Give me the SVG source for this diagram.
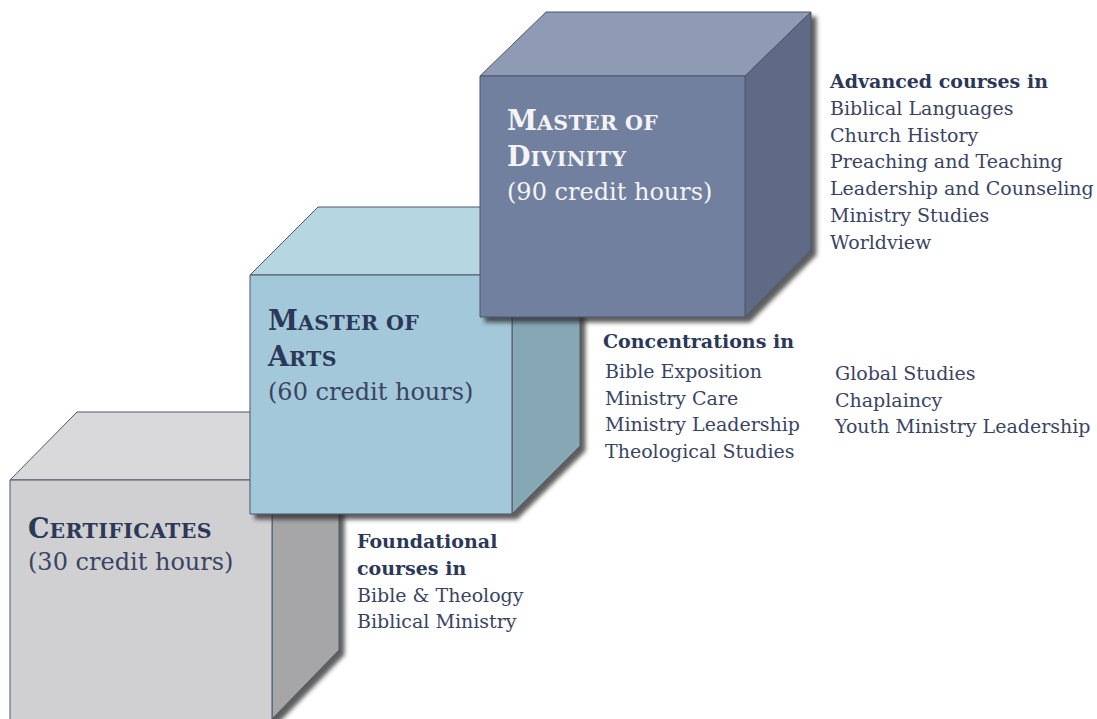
<svg xmlns="http://www.w3.org/2000/svg" width="1097" height="719" viewBox="0 0 1097 719">
<defs>
<filter id="sh" x="-10%" y="-10%" width="130%" height="130%">
<feDropShadow dx="5" dy="5" stdDeviation="2" flood-color="#2a2a2a" flood-opacity="0.75"/>
</filter>
<style>
.edge{stroke:#4d566b;stroke-width:1;stroke-linejoin:round}
.t{font-family:"DejaVu Serif","Liberation Serif",serif}
.h{font-weight:bold;fill:#2b3858}
.b{fill:#3a4462;font-size:19px}
.hb{font-weight:bold;fill:#2b3858;font-size:19px}
.w{fill:#f4f4f6}
.cap{font-size:27px}
.sc{font-size:20.5px;letter-spacing:0.4px}
</style>
</defs>
<rect width="1097" height="719" fill="#ffffff"/>

<g id="cube-certificates">
<g filter="url(#sh)">
<polygon class="edge" points="10,480 77,412 339,412 272,480" fill="#d9d9db"/>
<polygon class="edge" points="272,480 339,412 339,650 272,719" fill="#a6a6a8"/>
<rect class="edge" x="10" y="480" width="262" height="240" fill="#d0d0d2"/>
</g>
<text class="t h" x="28" y="538"><tspan class="cap">C</tspan><tspan class="sc">ERTIFICATES</tspan></text>
<text class="t" x="28" y="570" font-size="24" fill="#3a4462">(30 credit hours)</text>
</g>

<g id="cube-master-of-arts">
<g filter="url(#sh)">
<polygon class="edge" points="250,275 318,207 580,207 512,275" fill="#b6d6e1"/>
<polygon class="edge" points="512,275 580,207 580,446 512,514" fill="#86a8b4"/>
<rect class="edge" x="250" y="275" width="262" height="239" fill="#a3c8da"/>
</g>
<text class="t h" x="268" y="330"><tspan class="cap">M</tspan><tspan class="sc">ASTER OF</tspan></text>
<text class="t h" x="268" y="366"><tspan class="cap">A</tspan><tspan class="sc">RTS</tspan></text>
<text class="t" x="268" y="400" font-size="24" fill="#3a4462">(60 credit hours)</text>
</g>

<g id="cube-master-of-divinity">
<g filter="url(#sh)">
<polygon class="edge" points="480,76 546,12 811,12 745,76" fill="#8f9bb5"/>
<polygon class="edge" points="745,76 811,12 811,250 745,317" fill="#5f6b86"/>
<rect class="edge" x="480" y="76" width="265" height="241" fill="#71809e"/>
</g>
<text class="t w" font-weight="bold" x="507" y="130"><tspan class="cap">M</tspan><tspan class="sc">ASTER OF</tspan></text>
<text class="t w" font-weight="bold" x="507" y="166"><tspan class="cap">D</tspan><tspan class="sc">IVINITY</tspan></text>
<text class="t w" x="507" y="200" font-size="24">(90 credit hours)</text>
</g>

<g id="text-advanced">
<text class="t hb" x="830" y="88">Advanced courses in</text>
<text class="t b" x="830" y="115">Biblical Languages</text>
<text class="t b" x="830" y="142">Church History</text>
<text class="t b" x="830" y="168">Preaching and Teaching</text>
<text class="t b" x="830" y="195">Leadership and Counseling</text>
<text class="t b" x="830" y="222">Ministry Studies</text>
<text class="t b" x="830" y="249">Worldview</text>
</g>

<g id="text-concentrations">
<text class="t hb" x="603" y="348">Concentrations  in</text>
<text class="t b" x="605" y="378">Bible Exposition</text>
<text class="t b" x="605" y="405">Ministry Care</text>
<text class="t b" x="605" y="431">Ministry Leadership</text>
<text class="t b" x="605" y="458">Theological Studies</text>
<text class="t b" x="835" y="380">Global Studies</text>
<text class="t b" x="835" y="407">Chaplaincy</text>
<text class="t b" x="835" y="433">Youth Ministry Leadership</text>
</g>

<g id="text-foundational">
<text class="t hb" x="357" y="548">Foundational</text>
<text class="t hb" x="357" y="575">courses in</text>
<text class="t b" x="357" y="602">Bible &amp; Theology</text>
<text class="t b" x="357" y="628">Biblical Ministry</text>
</g>

<g id="connectors"></g>
</svg>
